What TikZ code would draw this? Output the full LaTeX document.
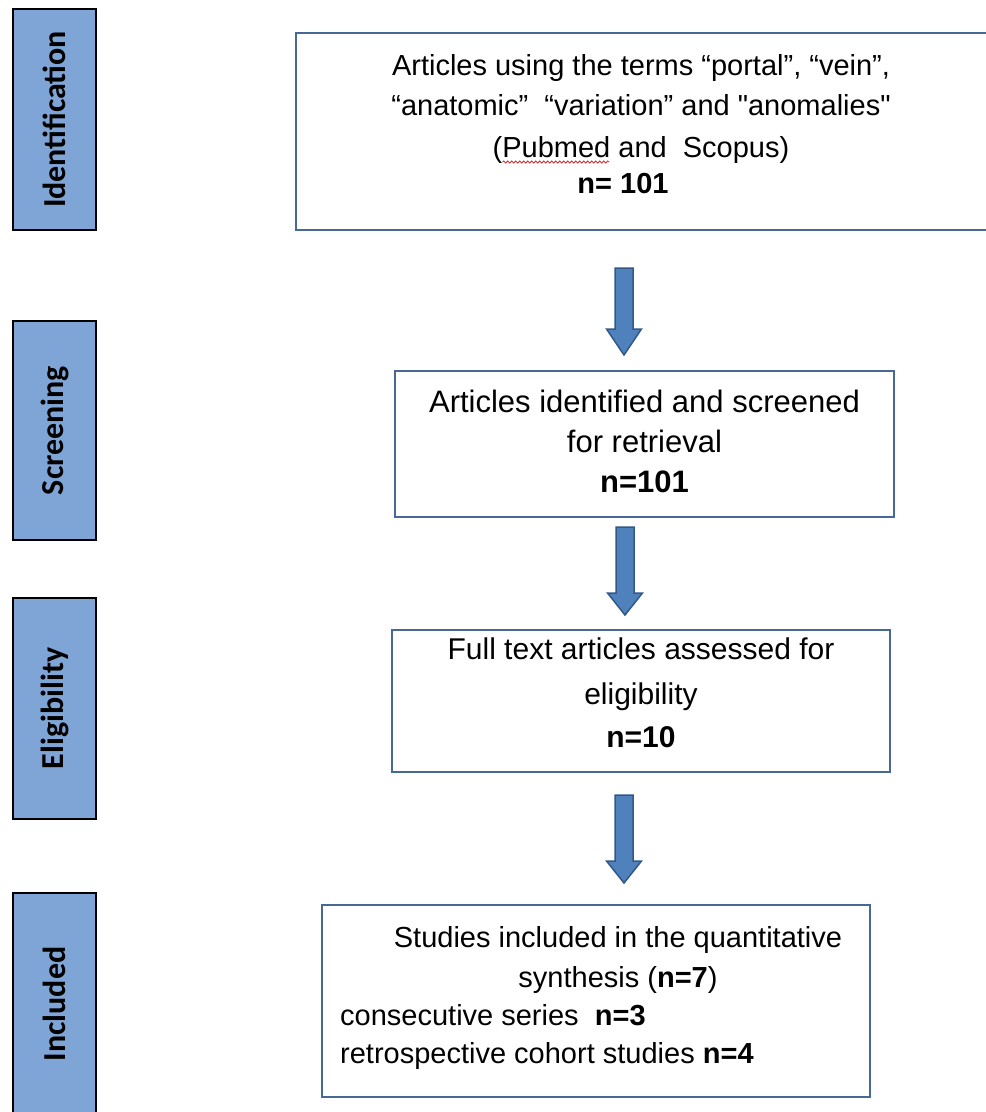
\documentclass[tikz,border=0pt]{standalone}
\usepackage{fontspec}
\setmainfont{Liberation Sans}
\newfontfamily\qfont{Liberation Sans}[Ligatures=TeXOff]
\newfontfamily\lblfont{Carlito}
\usetikzlibrary{calc,decorations.pathmorphing}
\definecolor{lblfill}{RGB}{127,165,214}
\definecolor{boxline}{RGB}{72,104,150}
\definecolor{arrfill}{RGB}{79,129,189}
\definecolor{arrline}{RGB}{52,88,134}
\definecolor{squig}{RGB}{215,45,45}
\newcommand{\dnarrow}[4]{%
  \draw[blockarrow] ({#1-9},#2) -- ({#1+9},#2) -- ({#1+9},#3) -- ({#1+17.5},#3)
    -- (#1,#4) -- ({#1-17.5},#3) -- ({#1-9},#3) -- cycle;}
\newcommand{\sq}{{\qfont"}}
\begin{document}
\begin{tikzpicture}[x=1pt,y=-1pt,
  lbl/.style={draw=black, line width=2.2pt, fill=lblfill, inner sep=0pt, rotate=90,
    minimum height=83pt, font=\lblfont\bfseries\fontsize{32}{38}\selectfont},
  flowbox/.style={draw=boxline, line width=2pt, inner sep=0pt},
  txta/.style={inner sep=0pt, anchor=base, font=\fontsize{29}{35}\selectfont},
  txtb/.style={inner sep=0pt, anchor=base, font=\fontsize{31}{37}\selectfont},
  txtc/.style={inner sep=0pt, anchor=base, font=\fontsize{30}{36}\selectfont},
  blockarrow/.style={fill=arrfill, draw=arrline, line width=1.5pt, line join=miter}]
\useasboundingbox (0,0) rectangle (986,1112);
% stage labels
\node[lbl, minimum width=221pt] (sid) at (54.5,119.5) {Identification};
\node[lbl, minimum width=219pt] (ssc) at (54.5,430.5) {Screening};
\node[lbl, minimum width=221pt] (sel) at (54.5,708.5) {Eligibility};
\node[lbl, minimum width=222pt] (sin) at (54.5,1004) {Included};
% flow boxes
\node[flowbox, minimum width=694pt, minimum height=197pt] (b1) at (643,131.5) {};
\node[flowbox, minimum width=499pt, minimum height=146pt] (b2) at (644.5,444) {};
\node[flowbox, minimum width=498pt, minimum height=142pt] (b3) at (641,701) {};
\node[flowbox, minimum width=548pt, minimum height=192pt] (b4) at (596,1001) {};
% box 1 text
\node[txta] (t11) at (641,75) {Articles using the terms “portal”, “vein”,};
\node[txta] (t12) at (641,115) {“anatomic”~ “variation” and \sq anomalies\sq};
\node[txta] (t13) at (641,157) {(Pubmed and~ Scopus)};
\node[txta, font=\fontsize{29}{35}\selectfont\bfseries] (t14) at (623,193) {n= 101};
\draw[squig, line width=0.8pt, decorate, decoration={snake, amplitude=1.1pt, segment length=4pt}]
  ($(t13.base west)+(10,5)$) -- ($(t13.base west)+(117,5)$);
% box 2 text
\node[txtb] (t21) at (644.5,412) {Articles identified and screened};
\node[txtb] (t22) at (644.5,452) {for retrieval};
\node[txtb, font=\fontsize{31}{37}\selectfont\bfseries] (t23) at (644.5,492) {n=101};
% box 3 text
\node[txtc] (t31) at (641,659) {Full text articles assessed for};
\node[txtc] (t32) at (641,704) {eligibility};
\node[txtc, font=\fontsize{30}{36}\selectfont\bfseries] (t33) at (641,747) {n=10};
% box 4 text
\node[txta] (t41) at (618,947) {Studies included in the quantitative};
\node[txta] (t42) at (618,987) {synthesis (\textbf{n=7})};
\node[txta, anchor=base west] (t43) at (340,1025) {consecutive series~ \textbf{n=3}};
\node[txta, anchor=base west] (t44) at (340,1063) {retrospective cohort studies \textbf{n=4}};
% block arrows
\dnarrow{624}{268}{329}{355}
\dnarrow{625}{527}{593}{615}
\dnarrow{624}{795}{861}{883}
\end{tikzpicture}
\end{document}
